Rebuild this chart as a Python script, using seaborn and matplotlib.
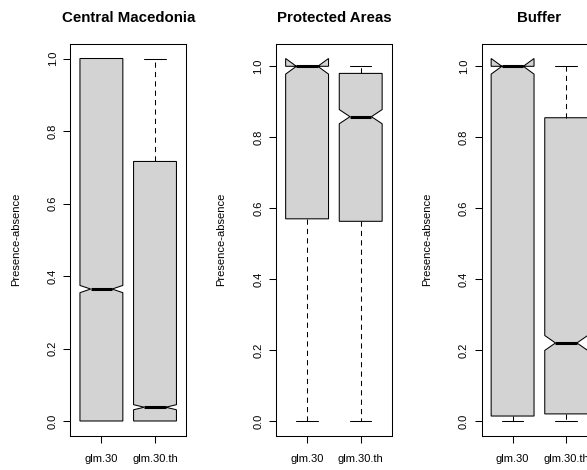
import matplotlib
matplotlib.use("Agg")
import matplotlib.pyplot as plt
import seaborn as sns

# Five-number summaries (plus notch limits) of presence-absence predictions
regions = ["Central Macedonia", "Protected Areas", "Buffer"]
models = ["glm.30", "glm.30.th"]

whislo = [[0.0, 0.0], [0.0, 0.0], [0.0, 0.0]]
q1 = [[0.0, 0.0], [0.570, 0.563], [0.014, 0.020]]
med = [[0.364, 0.038], [1.0, 0.858], [1.0, 0.220]]
q3 = [[1.0, 0.716], [1.0, 0.980], [1.0, 0.855]]
whishi = [[1.0, 1.0], [1.0, 1.0], [1.0, 1.0]]
cilo = [[0.354, 0.031], [0.978, 0.838], [0.978, 0.199]]
cihi = [[0.374, 0.045], [1.022, 0.878], [1.022, 0.241]]

yticks = [0.0, 0.2, 0.4, 0.6, 0.8, 1.0]
ylabel = "Presence-absence"

sns.set_theme(style="ticks")
plt.rcParams["font.family"] = ["Liberation Sans", "DejaVu Sans"]

W, H = 587, 470
fig = plt.figure(figsize=(W / 100, H / 100), dpi=100)

panel_left = [70.3, 276.0, 481.5]
panel_w = 115.8
top, bottom = 44.0, 435.5

for i, region in enumerate(regions):
    ax = fig.add_axes([panel_left[i] / W, (H - bottom) / H,
                       panel_w / W, (bottom - top) / H])
    stats = []
    for j, m in enumerate(models):
        stats.append(dict(label=m, whislo=whislo[i][j], q1=q1[i][j],
                          med=med[i][j], q3=q3[i][j], whishi=whishi[i][j],
                          cilo=cilo[i][j], cihi=cihi[i][j], fliers=[]))
    art = ax.bxp(stats, positions=[1, 2], widths=0.8, capwidths=0.4,
                 shownotches=True, showfliers=False, patch_artist=True,
                 manage_ticks=False,
                 boxprops=dict(facecolor="#d3d3d3", edgecolor="black", linewidth=0.75),
                 whiskerprops=dict(color="black", linewidth=0.75, linestyle=(0, (5, 4))),
                 capprops=dict(color="black", linewidth=0.75),
                 medianprops=dict(color="black", linewidth=2.2, solid_capstyle="butt"))

    # a staple sitting on the box edge adds nothing but a heavier line
    for j in range(len(models)):
        if whislo[i][j] == q1[i][j]:
            art["caps"][2 * j].set_visible(False)
        if whishi[i][j] == q3[i][j]:
            art["caps"][2 * j + 1].set_visible(False)

    lo = min(min(whislo[i]), min(cilo[i]))
    hi = max(max(whishi[i]), max(cihi[i]))
    pad = 0.04 * (hi - lo)
    ax.set_ylim(lo - pad, hi + pad)
    ax.set_xlim(0.42, 2.58)

    ax.set_yticks(yticks)
    ax.set_yticklabels([f"{v:.1f}" for v in yticks], rotation=90, va="center")
    ax.set_xticks([1, 2])
    ax.set_xticklabels(models)
    ax.tick_params(axis="both", direction="out", length=5, width=0.75,
                   color="black", labelsize=8, labelcolor="black")
    ax.tick_params(axis="y", pad=4)
    ax.tick_params(axis="x", pad=8)

    for s in ax.spines.values():
        s.set_visible(True)
        s.set_color("black")
        s.set_linewidth(0.75)
    ax.set_facecolor("white")
    ax.grid(False)

    ax.set_ylabel(ylabel, fontsize=8, color="black")
    ax.yaxis.set_label_coords(-0.427, 0.5)
    ax.set_title(region, fontsize=10.8, fontweight="bold", pad=15.5, color="black")

fig.savefig("out.png", dpi=100, facecolor="white")
